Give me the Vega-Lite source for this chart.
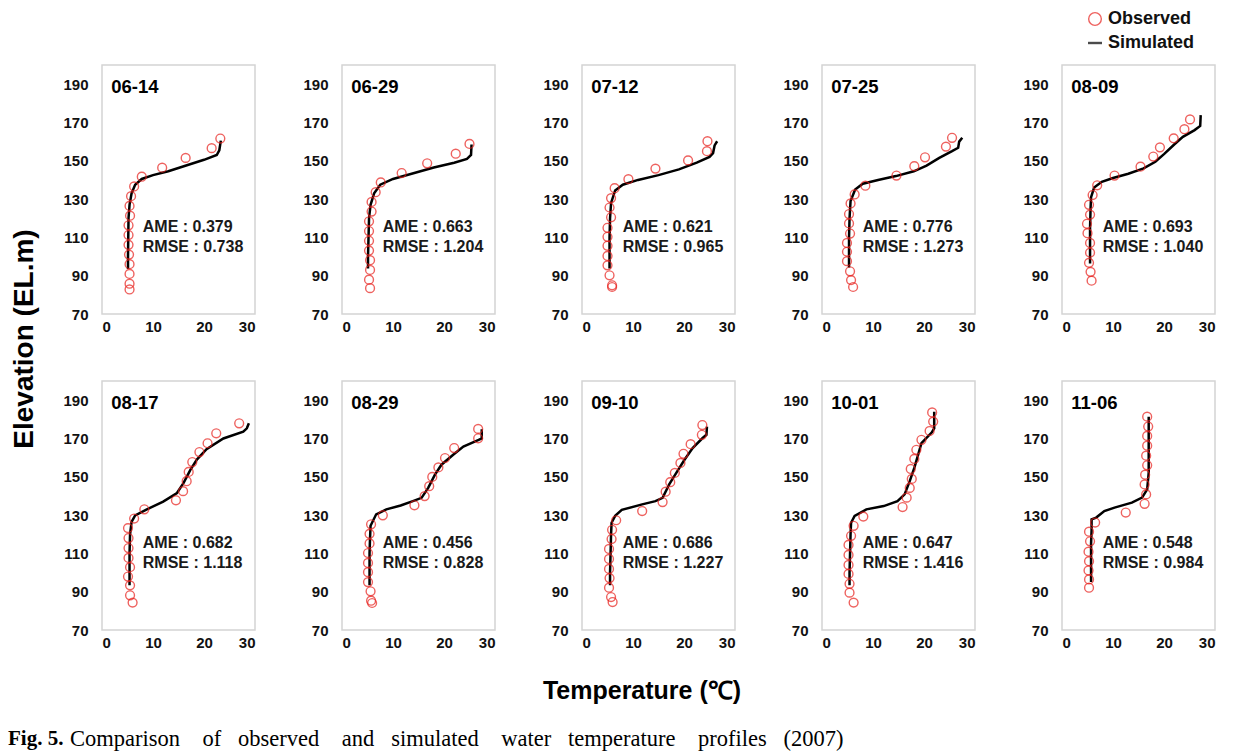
{
  "$schema": "https://vega.github.io/schema/vega-lite/v6.json",
  "padding": 0,
  "background": "white",
  "spacing": 0,
  "resolve": {"scale": {"color": "shared", "shape": "shared"}, "legend": {"color": "shared", "shape": "shared"}},
  "config": {
    "font": "Liberation Sans",
    "view": {"stroke": "#d4d4d4", "strokeWidth": 1.5},
    "axis": {"grid": false, "ticks": false, "domain": false, "labelFont": "Liberation Sans", "labelFontSize": 15, "labelFontWeight": "bold", "labelColor": "#111111", "title": null},
    "axisX": {"labelPadding": 5},
    "axisY": {"labelPadding": 14},
    "header": {"labels": false, "title": null, "labelPadding": 0, "titlePadding": 0, "labelFontSize": 0.5, "labelColor": "transparent", "labelExpr": "''"},
    "headerFacet": {"labels": false, "title": null, "labelPadding": 0, "titlePadding": 0, "labelFontSize": 0.5, "labelColor": "transparent", "labelExpr": "''"}
  },
  "vconcat": [
    {
      "data": {"values": [{"t": ""}]},
      "width": 10,
      "height": 63,
      "view": {"stroke": null},
      "mark": {"type": "text"},
      "encoding": {"text": {"field": "t"}}
    },
    {
      "spacing": 12,
      "resolve": {"scale": {"color": "shared", "shape": "shared"}, "legend": {"color": "shared", "shape": "shared"}},
      "hconcat": [
        {
          "data": {"values": [{"t": "Elevation (EL.m)"}]},
          "width": 50,
          "height": 548,
          "view": {"stroke": null},
          "mark": {"type": "text", "angle": 270, "align": "center", "baseline": "middle", "font": "Liberation Sans", "fontSize": 28, "fontWeight": "bold", "color": "#000000"},
          "encoding": {"text": {"field": "t"}}
        },
        {
          "data": {"values": [
            {"date":"06-14","type":"Label","ame":"AME : 0.379","rmse":"RMSE : 0.738"},
            {"date":"06-29","type":"Label","ame":"AME : 0.663","rmse":"RMSE : 1.204"},
            {"date":"07-12","type":"Label","ame":"AME : 0.621","rmse":"RMSE : 0.965"},
            {"date":"07-25","type":"Label","ame":"AME : 0.776","rmse":"RMSE : 1.273"},
            {"date":"08-09","type":"Label","ame":"AME : 0.693","rmse":"RMSE : 1.040"},
            {"date":"08-17","type":"Label","ame":"AME : 0.682","rmse":"RMSE : 1.118"},
            {"date":"08-29","type":"Label","ame":"AME : 0.456","rmse":"RMSE : 0.828"},
            {"date":"09-10","type":"Label","ame":"AME : 0.686","rmse":"RMSE : 1.227"},
            {"date":"10-01","type":"Label","ame":"AME : 0.647","rmse":"RMSE : 1.416"},
            {"date":"11-06","type":"Label","ame":"AME : 0.548","rmse":"RMSE : 0.984"},

            {"date":"06-14","type":"Observed","temp":23.2,"elev":161.6},
            {"date":"06-14","type":"Observed","temp":21.5,"elev":156.6},
            {"date":"06-14","type":"Observed","temp":16.4,"elev":151.5},
            {"date":"06-14","type":"Observed","temp":11.8,"elev":146.4},
            {"date":"06-14","type":"Observed","temp":7.8,"elev":141.7},
            {"date":"06-14","type":"Observed","temp":6.3,"elev":136.6},
            {"date":"06-14","type":"Observed","temp":5.7,"elev":131.5},
            {"date":"06-14","type":"Observed","temp":5.4,"elev":126.4},
            {"date":"06-14","type":"Observed","temp":5.5,"elev":121.3},
            {"date":"06-14","type":"Observed","temp":5.2,"elev":116.3},
            {"date":"06-14","type":"Observed","temp":5.2,"elev":111.2},
            {"date":"06-14","type":"Observed","temp":5.2,"elev":106.1},
            {"date":"06-14","type":"Observed","temp":5.3,"elev":101.0},
            {"date":"06-14","type":"Observed","temp":5.4,"elev":96.0},
            {"date":"06-14","type":"Observed","temp":5.4,"elev":90.9},
            {"date":"06-14","type":"Observed","temp":5.4,"elev":85.8},
            {"date":"06-14","type":"Observed","temp":5.4,"elev":82.8},

            {"date":"06-29","type":"Observed","temp":25.0,"elev":158.8},
            {"date":"06-29","type":"Observed","temp":22.3,"elev":153.7},
            {"date":"06-29","type":"Observed","temp":16.7,"elev":148.7},
            {"date":"06-29","type":"Observed","temp":11.7,"elev":143.6},
            {"date":"06-29","type":"Observed","temp":7.6,"elev":138.7},
            {"date":"06-29","type":"Observed","temp":6.6,"elev":133.6},
            {"date":"06-29","type":"Observed","temp":5.8,"elev":128.5},
            {"date":"06-29","type":"Observed","temp":5.8,"elev":123.5},
            {"date":"06-29","type":"Observed","temp":5.3,"elev":118.4},
            {"date":"06-29","type":"Observed","temp":5.3,"elev":113.3},
            {"date":"06-29","type":"Observed","temp":5.3,"elev":108.2},
            {"date":"06-29","type":"Observed","temp":5.3,"elev":103.1},
            {"date":"06-29","type":"Observed","temp":5.5,"elev":98.1},
            {"date":"06-29","type":"Observed","temp":5.5,"elev":93.0},
            {"date":"06-29","type":"Observed","temp":5.3,"elev":87.9},
            {"date":"06-29","type":"Observed","temp":5.5,"elev":83.5},

            {"date":"07-12","type":"Observed","temp":24.6,"elev":160.2},
            {"date":"07-12","type":"Observed","temp":24.5,"elev":155.0},
            {"date":"07-12","type":"Observed","temp":20.8,"elev":150.2},
            {"date":"07-12","type":"Observed","temp":14.4,"elev":145.9},
            {"date":"07-12","type":"Observed","temp":9.1,"elev":140.4},
            {"date":"07-12","type":"Observed","temp":6.4,"elev":135.7},
            {"date":"07-12","type":"Observed","temp":5.7,"elev":130.5},
            {"date":"07-12","type":"Observed","temp":5.4,"elev":125.6},
            {"date":"07-12","type":"Observed","temp":5.7,"elev":120.5},
            {"date":"07-12","type":"Observed","temp":5.0,"elev":115.0},
            {"date":"07-12","type":"Observed","temp":5.0,"elev":110.3},
            {"date":"07-12","type":"Observed","temp":5.0,"elev":105.6},
            {"date":"07-12","type":"Observed","temp":5.0,"elev":100.3},
            {"date":"07-12","type":"Observed","temp":5.0,"elev":95.4},
            {"date":"07-12","type":"Observed","temp":5.4,"elev":90.2},
            {"date":"07-12","type":"Observed","temp":5.9,"elev":85.0},
            {"date":"07-12","type":"Observed","temp":5.9,"elev":84.1},

            {"date":"07-25","type":"Observed","temp":25.5,"elev":162.0},
            {"date":"07-25","type":"Observed","temp":24.3,"elev":157.4},
            {"date":"07-25","type":"Observed","temp":20.2,"elev":151.8},
            {"date":"07-25","type":"Observed","temp":18.1,"elev":147.2},
            {"date":"07-25","type":"Observed","temp":14.6,"elev":142.3},
            {"date":"07-25","type":"Observed","temp":8.5,"elev":137.0},
            {"date":"07-25","type":"Observed","temp":6.4,"elev":132.4},
            {"date":"07-25","type":"Observed","temp":5.6,"elev":127.7},
            {"date":"07-25","type":"Observed","temp":5.3,"elev":122.2},
            {"date":"07-25","type":"Observed","temp":5.3,"elev":117.3},
            {"date":"07-25","type":"Observed","temp":5.5,"elev":112.0},
            {"date":"07-25","type":"Observed","temp":4.9,"elev":107.1},
            {"date":"07-25","type":"Observed","temp":4.9,"elev":102.5},
            {"date":"07-25","type":"Observed","temp":4.9,"elev":97.6},
            {"date":"07-25","type":"Observed","temp":5.5,"elev":92.3},
            {"date":"07-25","type":"Observed","temp":5.7,"elev":87.7},
            {"date":"07-25","type":"Observed","temp":6.1,"elev":84.1},

            {"date":"08-09","type":"Observed","temp":25.1,"elev":171.6},
            {"date":"08-09","type":"Observed","temp":24.0,"elev":166.5},
            {"date":"08-09","type":"Observed","temp":21.9,"elev":161.7},
            {"date":"08-09","type":"Observed","temp":19.2,"elev":157.0},
            {"date":"08-09","type":"Observed","temp":17.9,"elev":152.2},
            {"date":"08-09","type":"Observed","temp":15.4,"elev":146.9},
            {"date":"08-09","type":"Observed","temp":10.3,"elev":142.3},
            {"date":"08-09","type":"Observed","temp":6.9,"elev":137.2},
            {"date":"08-09","type":"Observed","temp":6.0,"elev":132.1},
            {"date":"08-09","type":"Observed","temp":5.3,"elev":127.0},
            {"date":"08-09","type":"Observed","temp":5.5,"elev":121.9},
            {"date":"08-09","type":"Observed","temp":4.9,"elev":117.1},
            {"date":"08-09","type":"Observed","temp":5.0,"elev":112.2},
            {"date":"08-09","type":"Observed","temp":5.5,"elev":107.1},
            {"date":"08-09","type":"Observed","temp":5.5,"elev":102.0},
            {"date":"08-09","type":"Observed","temp":5.3,"elev":96.7},
            {"date":"08-09","type":"Observed","temp":5.6,"elev":92.0},
            {"date":"08-09","type":"Observed","temp":5.8,"elev":87.4},

            {"date":"08-17","type":"Observed","temp":26.9,"elev":177.9},
            {"date":"08-17","type":"Observed","temp":22.4,"elev":172.7},
            {"date":"08-17","type":"Observed","temp":20.7,"elev":167.5},
            {"date":"08-17","type":"Observed","temp":19.1,"elev":162.9},
            {"date":"08-17","type":"Observed","temp":17.7,"elev":157.7},
            {"date":"08-17","type":"Observed","temp":17.0,"elev":152.5},
            {"date":"08-17","type":"Observed","temp":16.6,"elev":147.7},
            {"date":"08-17","type":"Observed","temp":15.9,"elev":142.5},
            {"date":"08-17","type":"Observed","temp":14.5,"elev":137.7},
            {"date":"08-17","type":"Observed","temp":8.3,"elev":133.0},
            {"date":"08-17","type":"Observed","temp":6.3,"elev":128.2},
            {"date":"08-17","type":"Observed","temp":5.1,"elev":123.2},
            {"date":"08-17","type":"Observed","temp":5.2,"elev":118.0},
            {"date":"08-17","type":"Observed","temp":5.2,"elev":112.8},
            {"date":"08-17","type":"Observed","temp":5.2,"elev":107.6},
            {"date":"08-17","type":"Observed","temp":5.5,"elev":102.8},
            {"date":"08-17","type":"Observed","temp":5.1,"elev":97.9},
            {"date":"08-17","type":"Observed","temp":5.5,"elev":93.3},
            {"date":"08-17","type":"Observed","temp":5.5,"elev":88.1},
            {"date":"08-17","type":"Observed","temp":6.0,"elev":84.3},

            {"date":"08-29","type":"Observed","temp":26.7,"elev":175.0},
            {"date":"08-29","type":"Observed","temp":26.7,"elev":170.1},
            {"date":"08-29","type":"Observed","temp":22.0,"elev":165.0},
            {"date":"08-29","type":"Observed","temp":20.2,"elev":159.8},
            {"date":"08-29","type":"Observed","temp":18.9,"elev":154.9},
            {"date":"08-29","type":"Observed","temp":17.7,"elev":149.9},
            {"date":"08-29","type":"Observed","temp":17.1,"elev":145.1},
            {"date":"08-29","type":"Observed","temp":16.2,"elev":139.9},
            {"date":"08-29","type":"Observed","temp":14.2,"elev":135.1},
            {"date":"08-29","type":"Observed","temp":8.0,"elev":129.9},
            {"date":"08-29","type":"Observed","temp":5.7,"elev":125.2},
            {"date":"08-29","type":"Observed","temp":5.4,"elev":120.2},
            {"date":"08-29","type":"Observed","temp":5.4,"elev":115.2},
            {"date":"08-29","type":"Observed","temp":5.1,"elev":110.2},
            {"date":"08-29","type":"Observed","temp":5.1,"elev":105.0},
            {"date":"08-29","type":"Observed","temp":5.1,"elev":100.2},
            {"date":"08-29","type":"Observed","temp":5.1,"elev":95.0},
            {"date":"08-29","type":"Observed","temp":5.6,"elev":90.2},
            {"date":"08-29","type":"Observed","temp":5.7,"elev":85.3},
            {"date":"08-29","type":"Observed","temp":5.9,"elev":84.1},

            {"date":"09-10","type":"Observed","temp":23.6,"elev":177.0},
            {"date":"09-10","type":"Observed","temp":23.5,"elev":171.9},
            {"date":"09-10","type":"Observed","temp":21.3,"elev":167.0},
            {"date":"09-10","type":"Observed","temp":19.9,"elev":162.0},
            {"date":"09-10","type":"Observed","temp":19.3,"elev":157.2},
            {"date":"09-10","type":"Observed","temp":18.2,"elev":152.0},
            {"date":"09-10","type":"Observed","temp":17.3,"elev":147.2},
            {"date":"09-10","type":"Observed","temp":16.4,"elev":142.2},
            {"date":"09-10","type":"Observed","temp":15.8,"elev":136.8},
            {"date":"09-10","type":"Observed","temp":11.8,"elev":132.1},
            {"date":"09-10","type":"Observed","temp":6.7,"elev":127.3},
            {"date":"09-10","type":"Observed","temp":5.9,"elev":122.3},
            {"date":"09-10","type":"Observed","temp":5.8,"elev":117.5},
            {"date":"09-10","type":"Observed","temp":5.3,"elev":112.3},
            {"date":"09-10","type":"Observed","temp":5.3,"elev":107.1},
            {"date":"09-10","type":"Observed","temp":5.3,"elev":101.9},
            {"date":"09-10","type":"Observed","temp":5.4,"elev":97.1},
            {"date":"09-10","type":"Observed","temp":5.3,"elev":92.1},
            {"date":"09-10","type":"Observed","temp":5.7,"elev":87.2},
            {"date":"09-10","type":"Observed","temp":6.0,"elev":84.6},

            {"date":"10-01","type":"Observed","temp":21.6,"elev":183.6},
            {"date":"10-01","type":"Observed","temp":21.8,"elev":178.8},
            {"date":"10-01","type":"Observed","temp":21.1,"elev":173.9},
            {"date":"10-01","type":"Observed","temp":19.5,"elev":169.3},
            {"date":"10-01","type":"Observed","temp":18.5,"elev":164.1},
            {"date":"10-01","type":"Observed","temp":18.1,"elev":159.3},
            {"date":"10-01","type":"Observed","temp":17.4,"elev":154.1},
            {"date":"10-01","type":"Observed","temp":17.6,"elev":148.9},
            {"date":"10-01","type":"Observed","temp":17.2,"elev":144.2},
            {"date":"10-01","type":"Observed","temp":16.6,"elev":139.1},
            {"date":"10-01","type":"Observed","temp":15.8,"elev":134.2},
            {"date":"10-01","type":"Observed","temp":8.1,"elev":129.2},
            {"date":"10-01","type":"Observed","temp":6.2,"elev":124.4},
            {"date":"10-01","type":"Observed","temp":5.7,"elev":119.2},
            {"date":"10-01","type":"Observed","temp":5.2,"elev":114.4},
            {"date":"10-01","type":"Observed","temp":5.2,"elev":109.2},
            {"date":"10-01","type":"Observed","temp":5.2,"elev":104.0},
            {"date":"10-01","type":"Observed","temp":5.2,"elev":99.3},
            {"date":"10-01","type":"Observed","temp":5.4,"elev":94.1},
            {"date":"10-01","type":"Observed","temp":5.4,"elev":89.5},
            {"date":"10-01","type":"Observed","temp":6.2,"elev":84.3},

            {"date":"11-06","type":"Observed","temp":16.7,"elev":181.4},
            {"date":"11-06","type":"Observed","temp":16.9,"elev":176.2},
            {"date":"11-06","type":"Observed","temp":16.7,"elev":171.3},
            {"date":"11-06","type":"Observed","temp":16.7,"elev":166.2},
            {"date":"11-06","type":"Observed","temp":16.5,"elev":161.0},
            {"date":"11-06","type":"Observed","temp":16.7,"elev":156.0},
            {"date":"11-06","type":"Observed","temp":16.3,"elev":151.1},
            {"date":"11-06","type":"Observed","temp":16.2,"elev":146.0},
            {"date":"11-06","type":"Observed","temp":16.5,"elev":140.8},
            {"date":"11-06","type":"Observed","temp":16.2,"elev":135.9},
            {"date":"11-06","type":"Observed","temp":12.5,"elev":131.3},
            {"date":"11-06","type":"Observed","temp":6.5,"elev":126.1},
            {"date":"11-06","type":"Observed","temp":5.3,"elev":121.3},
            {"date":"11-06","type":"Observed","temp":5.5,"elev":116.3},
            {"date":"11-06","type":"Observed","temp":5.2,"elev":110.9},
            {"date":"11-06","type":"Observed","temp":5.3,"elev":105.9},
            {"date":"11-06","type":"Observed","temp":5.2,"elev":101.1},
            {"date":"11-06","type":"Observed","temp":5.3,"elev":96.4},
            {"date":"11-06","type":"Observed","temp":5.3,"elev":92.1},

            {"date":"06-14","type":"Simulated","temp":5.1,"elev":93.5},
            {"date":"06-14","type":"Simulated","temp":5.1,"elev":100},
            {"date":"06-14","type":"Simulated","temp":5.15,"elev":110},
            {"date":"06-14","type":"Simulated","temp":5.2,"elev":120},
            {"date":"06-14","type":"Simulated","temp":5.4,"elev":127},
            {"date":"06-14","type":"Simulated","temp":5.8,"elev":133},
            {"date":"06-14","type":"Simulated","temp":6.5,"elev":137.5},
            {"date":"06-14","type":"Simulated","temp":7.8,"elev":140.5},
            {"date":"06-14","type":"Simulated","temp":10,"elev":142.5},
            {"date":"06-14","type":"Simulated","temp":13,"elev":144.5},
            {"date":"06-14","type":"Simulated","temp":16.5,"elev":147.5},
            {"date":"06-14","type":"Simulated","temp":20,"elev":150.5},
            {"date":"06-14","type":"Simulated","temp":22.5,"elev":153},
            {"date":"06-14","type":"Simulated","temp":23,"elev":155.5},
            {"date":"06-14","type":"Simulated","temp":23.3,"elev":160.5},

            {"date":"06-29","type":"Simulated","temp":5.1,"elev":93.7},
            {"date":"06-29","type":"Simulated","temp":5.1,"elev":100},
            {"date":"06-29","type":"Simulated","temp":5.2,"elev":110},
            {"date":"06-29","type":"Simulated","temp":5.3,"elev":120},
            {"date":"06-29","type":"Simulated","temp":5.6,"elev":127},
            {"date":"06-29","type":"Simulated","temp":6.3,"elev":133},
            {"date":"06-29","type":"Simulated","temp":7.5,"elev":137.5},
            {"date":"06-29","type":"Simulated","temp":10,"elev":140.5},
            {"date":"06-29","type":"Simulated","temp":14,"elev":143.5},
            {"date":"06-29","type":"Simulated","temp":18,"elev":146.5},
            {"date":"06-29","type":"Simulated","temp":22,"elev":149},
            {"date":"06-29","type":"Simulated","temp":24.5,"elev":151},
            {"date":"06-29","type":"Simulated","temp":25.3,"elev":153},
            {"date":"06-29","type":"Simulated","temp":25.4,"elev":158.5},

            {"date":"07-12","type":"Simulated","temp":5.4,"elev":93.7},
            {"date":"07-12","type":"Simulated","temp":5.4,"elev":100},
            {"date":"07-12","type":"Simulated","temp":5.4,"elev":110},
            {"date":"07-12","type":"Simulated","temp":5.5,"elev":120},
            {"date":"07-12","type":"Simulated","temp":5.7,"elev":128},
            {"date":"07-12","type":"Simulated","temp":6.5,"elev":134.5},
            {"date":"07-12","type":"Simulated","temp":8,"elev":137.5},
            {"date":"07-12","type":"Simulated","temp":11,"elev":140},
            {"date":"07-12","type":"Simulated","temp":15,"elev":142.5},
            {"date":"07-12","type":"Simulated","temp":19,"elev":145.5},
            {"date":"07-12","type":"Simulated","temp":22.5,"elev":149},
            {"date":"07-12","type":"Simulated","temp":25,"elev":152},
            {"date":"07-12","type":"Simulated","temp":25.7,"elev":154},
            {"date":"07-12","type":"Simulated","temp":26,"elev":158},
            {"date":"07-12","type":"Simulated","temp":26.5,"elev":160.2},

            {"date":"07-25","type":"Simulated","temp":5.3,"elev":94.3},
            {"date":"07-25","type":"Simulated","temp":5.3,"elev":100},
            {"date":"07-25","type":"Simulated","temp":5.3,"elev":110},
            {"date":"07-25","type":"Simulated","temp":5.4,"elev":120},
            {"date":"07-25","type":"Simulated","temp":5.6,"elev":129},
            {"date":"07-25","type":"Simulated","temp":6.5,"elev":135},
            {"date":"07-25","type":"Simulated","temp":8,"elev":138},
            {"date":"07-25","type":"Simulated","temp":11,"elev":140},
            {"date":"07-25","type":"Simulated","temp":14.5,"elev":142},
            {"date":"07-25","type":"Simulated","temp":18,"elev":144.5},
            {"date":"07-25","type":"Simulated","temp":20.5,"elev":147.5},
            {"date":"07-25","type":"Simulated","temp":23,"elev":151.5},
            {"date":"07-25","type":"Simulated","temp":25.5,"elev":155},
            {"date":"07-25","type":"Simulated","temp":26.7,"elev":156.8},
            {"date":"07-25","type":"Simulated","temp":26.9,"elev":160},
            {"date":"07-25","type":"Simulated","temp":27.5,"elev":162},

            {"date":"08-09","type":"Simulated","temp":5.5,"elev":96.4},
            {"date":"08-09","type":"Simulated","temp":5.5,"elev":105},
            {"date":"08-09","type":"Simulated","temp":5.5,"elev":115},
            {"date":"08-09","type":"Simulated","temp":5.6,"elev":125},
            {"date":"08-09","type":"Simulated","temp":5.7,"elev":131},
            {"date":"08-09","type":"Simulated","temp":6.3,"elev":136},
            {"date":"08-09","type":"Simulated","temp":7.8,"elev":139},
            {"date":"08-09","type":"Simulated","temp":10,"elev":141},
            {"date":"08-09","type":"Simulated","temp":13,"elev":143.2},
            {"date":"08-09","type":"Simulated","temp":16,"elev":146},
            {"date":"08-09","type":"Simulated","temp":18.3,"elev":149.5},
            {"date":"08-09","type":"Simulated","temp":20,"elev":153.5},
            {"date":"08-09","type":"Simulated","temp":22,"elev":158.5},
            {"date":"08-09","type":"Simulated","temp":23.7,"elev":162.5},
            {"date":"08-09","type":"Simulated","temp":26,"elev":166},
            {"date":"08-09","type":"Simulated","temp":27.1,"elev":168.2},
            {"date":"08-09","type":"Simulated","temp":27.2,"elev":173.8},

            {"date":"08-17","type":"Simulated","temp":5.4,"elev":93.3},
            {"date":"08-17","type":"Simulated","temp":5.4,"elev":100},
            {"date":"08-17","type":"Simulated","temp":5.4,"elev":110},
            {"date":"08-17","type":"Simulated","temp":5.5,"elev":120},
            {"date":"08-17","type":"Simulated","temp":5.8,"elev":126.5},
            {"date":"08-17","type":"Simulated","temp":6.5,"elev":129.8},
            {"date":"08-17","type":"Simulated","temp":8.8,"elev":133},
            {"date":"08-17","type":"Simulated","temp":12,"elev":137},
            {"date":"08-17","type":"Simulated","temp":14.7,"elev":141.5},
            {"date":"08-17","type":"Simulated","temp":16,"elev":146.8},
            {"date":"08-17","type":"Simulated","temp":17.3,"elev":153.5},
            {"date":"08-17","type":"Simulated","temp":18.6,"elev":159},
            {"date":"08-17","type":"Simulated","temp":20.5,"elev":164.4},
            {"date":"08-17","type":"Simulated","temp":23.8,"elev":170},
            {"date":"08-17","type":"Simulated","temp":27.7,"elev":173.6},
            {"date":"08-17","type":"Simulated","temp":28.4,"elev":175.3},
            {"date":"08-17","type":"Simulated","temp":28.8,"elev":177.9},

            {"date":"08-29","type":"Simulated","temp":5.4,"elev":93.3},
            {"date":"08-29","type":"Simulated","temp":5.4,"elev":100},
            {"date":"08-29","type":"Simulated","temp":5.4,"elev":110},
            {"date":"08-29","type":"Simulated","temp":5.5,"elev":118},
            {"date":"08-29","type":"Simulated","temp":5.6,"elev":124.4},
            {"date":"08-29","type":"Simulated","temp":6.7,"elev":130.4},
            {"date":"08-29","type":"Simulated","temp":8.7,"elev":133},
            {"date":"08-29","type":"Simulated","temp":11.5,"elev":135},
            {"date":"08-29","type":"Simulated","temp":13.9,"elev":137.3},
            {"date":"08-29","type":"Simulated","temp":15.6,"elev":139},
            {"date":"08-29","type":"Simulated","temp":16.9,"elev":144.2},
            {"date":"08-29","type":"Simulated","temp":18.2,"elev":151},
            {"date":"08-29","type":"Simulated","temp":19.5,"elev":156.3},
            {"date":"08-29","type":"Simulated","temp":21.8,"elev":161.5},
            {"date":"08-29","type":"Simulated","temp":23.8,"elev":165.8},
            {"date":"08-29","type":"Simulated","temp":26.8,"elev":169.3},
            {"date":"08-29","type":"Simulated","temp":27.4,"elev":170},
            {"date":"08-29","type":"Simulated","temp":27.4,"elev":174.8},

            {"date":"09-10","type":"Simulated","temp":5.5,"elev":93.3},
            {"date":"09-10","type":"Simulated","temp":5.5,"elev":100},
            {"date":"09-10","type":"Simulated","temp":5.6,"elev":110},
            {"date":"09-10","type":"Simulated","temp":5.7,"elev":120},
            {"date":"09-10","type":"Simulated","temp":5.8,"elev":126},
            {"date":"09-10","type":"Simulated","temp":6.5,"elev":129.6},
            {"date":"09-10","type":"Simulated","temp":7.8,"elev":132.7},
            {"date":"09-10","type":"Simulated","temp":11.8,"elev":135.6},
            {"date":"09-10","type":"Simulated","temp":14.4,"elev":137.3},
            {"date":"09-10","type":"Simulated","temp":15.8,"elev":139},
            {"date":"09-10","type":"Simulated","temp":17.1,"elev":146},
            {"date":"09-10","type":"Simulated","temp":18.7,"elev":152.9},
            {"date":"09-10","type":"Simulated","temp":20.1,"elev":158.9},
            {"date":"09-10","type":"Simulated","temp":21.7,"elev":165},
            {"date":"09-10","type":"Simulated","temp":23.6,"elev":170.1},
            {"date":"09-10","type":"Simulated","temp":24.4,"elev":171.9},
            {"date":"09-10","type":"Simulated","temp":24.5,"elev":176.2},

            {"date":"10-01","type":"Simulated","temp":5.4,"elev":93.3},
            {"date":"10-01","type":"Simulated","temp":5.4,"elev":100},
            {"date":"10-01","type":"Simulated","temp":5.5,"elev":110},
            {"date":"10-01","type":"Simulated","temp":5.6,"elev":120},
            {"date":"10-01","type":"Simulated","temp":5.7,"elev":126},
            {"date":"10-01","type":"Simulated","temp":6.4,"elev":129.6},
            {"date":"10-01","type":"Simulated","temp":8.7,"elev":133},
            {"date":"10-01","type":"Simulated","temp":12.1,"elev":134.7},
            {"date":"10-01","type":"Simulated","temp":14.8,"elev":137.3},
            {"date":"10-01","type":"Simulated","temp":16.2,"elev":140.8},
            {"date":"10-01","type":"Simulated","temp":17.2,"elev":147.7},
            {"date":"10-01","type":"Simulated","temp":18.1,"elev":154.6},
            {"date":"10-01","type":"Simulated","temp":18.8,"elev":161},
            {"date":"10-01","type":"Simulated","temp":19.5,"elev":167.5},
            {"date":"10-01","type":"Simulated","temp":21.5,"elev":173.1},
            {"date":"10-01","type":"Simulated","temp":22,"elev":175.3},
            {"date":"10-01","type":"Simulated","temp":22,"elev":184},

            {"date":"11-06","type":"Simulated","temp":5.7,"elev":95},
            {"date":"11-06","type":"Simulated","temp":5.7,"elev":105},
            {"date":"11-06","type":"Simulated","temp":5.7,"elev":115},
            {"date":"11-06","type":"Simulated","temp":5.8,"elev":122},
            {"date":"11-06","type":"Simulated","temp":5.8,"elev":127.8},
            {"date":"11-06","type":"Simulated","temp":6.7,"elev":128.7},
            {"date":"11-06","type":"Simulated","temp":8.3,"elev":132.1},
            {"date":"11-06","type":"Simulated","temp":10.3,"elev":133.9},
            {"date":"11-06","type":"Simulated","temp":13.7,"elev":136.5},
            {"date":"11-06","type":"Simulated","temp":15.7,"elev":139.1},
            {"date":"11-06","type":"Simulated","temp":16.7,"elev":143.4},
            {"date":"11-06","type":"Simulated","temp":17,"elev":152},
            {"date":"11-06","type":"Simulated","temp":17,"elev":165},
            {"date":"11-06","type":"Simulated","temp":17,"elev":181.4}
          ]},
          "facet": {"field": "date", "type": "ordinal", "header": {"labels": false, "title": null, "labelPadding": 0, "titlePadding": 0, "labelFontSize": 0.5, "labelColor": "transparent", "labelExpr": "''"}},
          "columns": 5,
          "spacing": {"row": 44, "column": 46},
          "resolve": {"axis": {"x": "independent", "y": "independent"}},
          "spec": {
            "width": 153,
            "height": 249,
            "layer": [
              {
                "transform": [{"filter": "datum.type === 'Simulated'"}],
                "mark": {"type": "line", "color": "#000000", "strokeWidth": 2.5},
                "encoding": {
                  "x": {"field": "temp", "type": "quantitative", "scale": {"domain": [0, 30], "nice": false}, "axis": {"values": [0, 10, 20, 30]}},
                  "y": {"field": "elev", "type": "quantitative", "scale": {"domain": [70, 200], "nice": false, "zero": false}, "axis": {"values": [70, 90, 110, 130, 150, 170, 190]}},
                  "order": {"field": "elev", "type": "quantitative"}
                }
              },
              {
                "transform": [{"filter": "datum.type === 'Observed'"}],
                "mark": {"type": "point", "filled": false, "size": 78, "strokeWidth": 1.4},
                "encoding": {
                  "x": {"field": "temp", "type": "quantitative"},
                  "y": {"field": "elev", "type": "quantitative"},
                  "color": {"field": "type", "type": "nominal", "scale": {"domain": ["Observed", "Simulated"], "range": ["#e8201c", "#000000"]},
                    "legend": {"title": null, "orient": "none", "legendX": 1086, "legendY": 10, "labelFont": "Liberation Sans", "labelFontSize": 18, "labelFontWeight": "bold", "labelColor": "#111111", "symbolSize": 160, "symbolStrokeWidth": 1.4, "rowPadding": 5, "labelOffset": 4}},
                  "shape": {"field": "type", "type": "nominal", "scale": {"domain": ["Observed", "Simulated"], "range": ["circle", "M-1,-0.08L1,-0.08L1,0.08L-1,0.08Z"]},
                    "legend": {"title": null, "orient": "none", "legendX": 1086, "legendY": 10, "labelFont": "Liberation Sans", "labelFontSize": 18, "labelFontWeight": "bold", "labelColor": "#111111", "symbolSize": 160, "symbolStrokeWidth": 1.4, "rowPadding": 5, "labelOffset": 4}}
                }
              },
              {
                "transform": [{"filter": "datum.type === 'Label'"}],
                "mark": {"type": "text", "align": "left", "baseline": "middle", "font": "Liberation Sans", "fontSize": 18.5, "fontWeight": "bold", "color": "#000000"},
                "encoding": {
                  "x": {"datum": 1.8, "type": "quantitative"},
                  "y": {"datum": 188.5, "type": "quantitative"},
                  "text": {"field": "date"}
                }
              },
              {
                "transform": [{"filter": "datum.type === 'Label'"}],
                "mark": {"type": "text", "align": "left", "baseline": "middle", "font": "Liberation Sans", "fontSize": 16, "fontWeight": "bold", "color": "#1a1a1a"},
                "encoding": {
                  "x": {"datum": 8, "type": "quantitative"},
                  "y": {"datum": 115.5, "type": "quantitative"},
                  "text": {"field": "ame"}
                }
              },
              {
                "transform": [{"filter": "datum.type === 'Label'"}],
                "mark": {"type": "text", "align": "left", "baseline": "middle", "font": "Liberation Sans", "fontSize": 16, "fontWeight": "bold", "color": "#1a1a1a"},
                "encoding": {
                  "x": {"datum": 8, "type": "quantitative"},
                  "y": {"datum": 105.0, "type": "quantitative"},
                  "text": {"field": "rmse"}
                }
              }
            ]
          }
        }
      ]
    },
    {
      "data": {"values": [{"t": "Temperature (℃)"}]},
      "width": 1200,
      "height": 72,
      "view": {"stroke": null},
      "mark": {"type": "text", "align": "center", "baseline": "middle", "dx": 42, "dy": 4, "font": "Liberation Sans", "fontSize": 25, "fontWeight": "bold", "color": "#000000"},
      "encoding": {"text": {"field": "t"}}
    },
    {
      "data": {"values": [{"fig": "Fig. 5.", "cap": "Comparison\u00a0\u00a0\u00a0 of\u00a0\u00a0 observed\u00a0\u00a0\u00a0 and\u00a0\u00a0 simulated\u00a0\u00a0\u00a0 water\u00a0\u00a0 temperature\u00a0\u00a0\u00a0 profiles\u00a0\u00a0 (2007)"}]},
      "width": 16,
      "height": 24,
      "view": {"stroke": null},
      "layer": [
        {
          "mark": {"type": "text", "align": "left", "baseline": "middle", "dy": 4, "font": "Liberation Serif", "fontSize": 21, "fontWeight": "bold", "color": "#000000"},
          "encoding": {"text": {"field": "fig"}}
        },
        {
          "mark": {"type": "text", "align": "left", "baseline": "middle", "dx": 62, "dy": 4, "font": "Liberation Serif", "fontSize": 22.5, "color": "#000000"},
          "encoding": {"text": {"field": "cap"}}
        }
      ]
    }
  ]
}
